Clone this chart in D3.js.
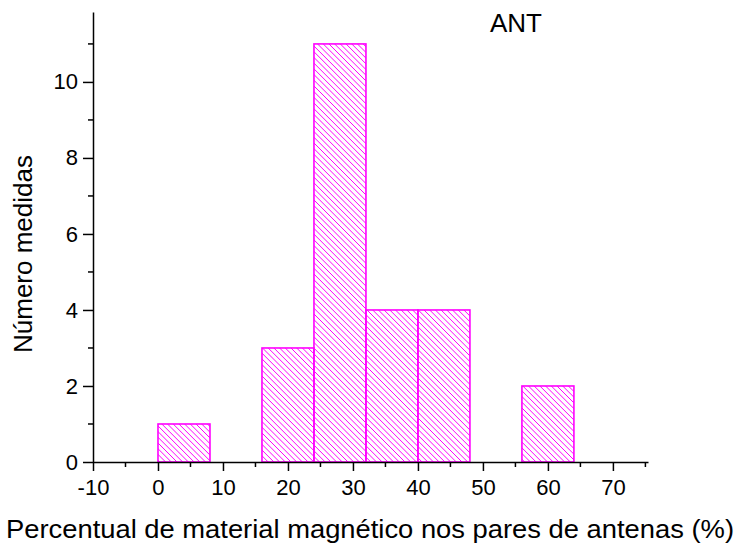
<!DOCTYPE html>
<html>
<head>
<meta charset="utf-8">
<script src="https://cdn.jsdelivr.net/npm/d3@7"></script>
<style>
  html, body { margin: 0; padding: 0; background: #fff; }
  svg { display: block; }
  text { font-family: "Liberation Sans", Arial, sans-serif; fill: #000; }
</style>
</head>
<body>
<svg id="chart" width="740" height="550"></svg>
<script>
// Histogram bins (percent) and counts
const binStarts = [0, 16, 24, 32, 40, 56];
const binEnds   = [8, 24, 32, 40, 48, 64];
const counts    = [1, 3, 11, 4, 4, 2];

const xTicks = [-10, 0, 10, 20, 30, 40, 50, 60, 70];
const xMinorTicks = [-5, 5, 15, 25, 35, 45, 55, 65, 75];
const yTicks = [0, 2, 4, 6, 8, 10];
const yMinorTicks = [1, 3, 5, 7, 9, 11];

const xTitle = "Percentual de material magnético nos pares de antenas (%)";
const yTitle = "Número medidas";
const seriesLabel = "ANT";

const bins = binStarts.map((s, i) => ({ x0: s, x1: binEnds[i], n: counts[i] }));

const svg = d3.select("#chart");
const color = "#ff00ff";
const fmt = d => String(d);   // plain hyphen for negatives

const x = d3.scaleLinear().domain([-10, 75.4]).range([93, 648]);
const y = d3.scaleLinear().domain([0, 11.84]).range([462, 12]);

const defs = svg.append("defs");
const hatchStep = 5.7;   // horizontal spacing of the "\" hatch lines

const barG = svg.append("g").selectAll("g").data(bins).join("g");

barG.each(function (d, i) {
  const g = d3.select(this);
  const bx0 = x(d.x0), bx1 = x(d.x1), by0 = y(d.n), by1 = y(0);
  const id = "clip-bar-" + i;
  defs.append("clipPath").attr("id", id)
    .append("rect").attr("x", bx0).attr("y", by0)
    .attr("width", bx1 - bx0).attr("height", by1 - by0);

  // hatch lines y - x = c, stepping c across the bar
  const cMin = by0 - bx1, cMax = by1 - bx0;
  const cs = d3.range(Math.floor(cMin / hatchStep) * hatchStep, cMax + hatchStep, hatchStep);
  g.append("g").attr("clip-path", `url(#${id})`)
    .selectAll("line").data(cs).join("line")
    .attr("x1", c => bx0 - 2).attr("y1", c => bx0 - 2 + c)
    .attr("x2", c => bx1 + 2).attr("y2", c => bx1 + 2 + c)
    .attr("stroke", color).attr("stroke-width", 1);

  g.append("rect")
    .attr("x", bx0).attr("y", by0)
    .attr("width", bx1 - bx0).attr("height", by1 - by0)
    .attr("fill", "none")
    .attr("stroke", color)
    .attr("stroke-width", 1.6);
});

// x axis
const gx = svg.append("g").attr("transform", `translate(0,${y(0)})`);
gx.call(d3.axisBottom(x).tickValues(xTicks).tickSize(9).tickSizeOuter(0).tickFormat(fmt));
gx.append("g").selectAll("line").data(xMinorTicks).join("line")
  .attr("x1", d => x(d)).attr("x2", d => x(d))
  .attr("y1", 0).attr("y2", 5).attr("stroke", "#000").attr("stroke-width", 1.5);

// y axis
const gy = svg.append("g").attr("transform", `translate(${x(-10)},0)`);
gy.call(d3.axisLeft(y).tickValues(yTicks).tickSize(10).tickSizeOuter(0).tickPadding(5).tickFormat(fmt));
gy.append("g").selectAll("line").data(yMinorTicks).join("line")
  .attr("y1", d => y(d)).attr("y2", d => y(d))
  .attr("x1", 0).attr("x2", -5).attr("stroke", "#000").attr("stroke-width", 1.5);

[gx, gy].forEach(g => {
  g.selectAll(".domain").attr("stroke", "#000").attr("stroke-width", 1.5);
  g.selectAll(".tick line").attr("stroke", "#000").attr("stroke-width", 1.5);
  g.selectAll(".tick text").style("font-family", "'Liberation Sans', Arial, sans-serif")
    .style("font-size", "22px").attr("fill", "#000");
});
gx.selectAll(".tick text").attr("y", 33).attr("dy", null);

// titles
svg.append("text")
  .attr("x", 370).attr("y", 538)
  .attr("text-anchor", "middle")
  .attr("textLength", 728).attr("lengthAdjust", "spacingAndGlyphs")
  .style("font-size", "26.5px")
  .text(xTitle);

svg.append("text")
  .attr("transform", "translate(32,254) rotate(-90)")
  .attr("text-anchor", "middle")
  .style("font-size", "26px")
  .text(yTitle);

svg.append("text")
  .attr("x", 490).attr("y", 32)
  .style("font-size", "26px")
  .text(seriesLabel);
</script>
</body>
</html>
